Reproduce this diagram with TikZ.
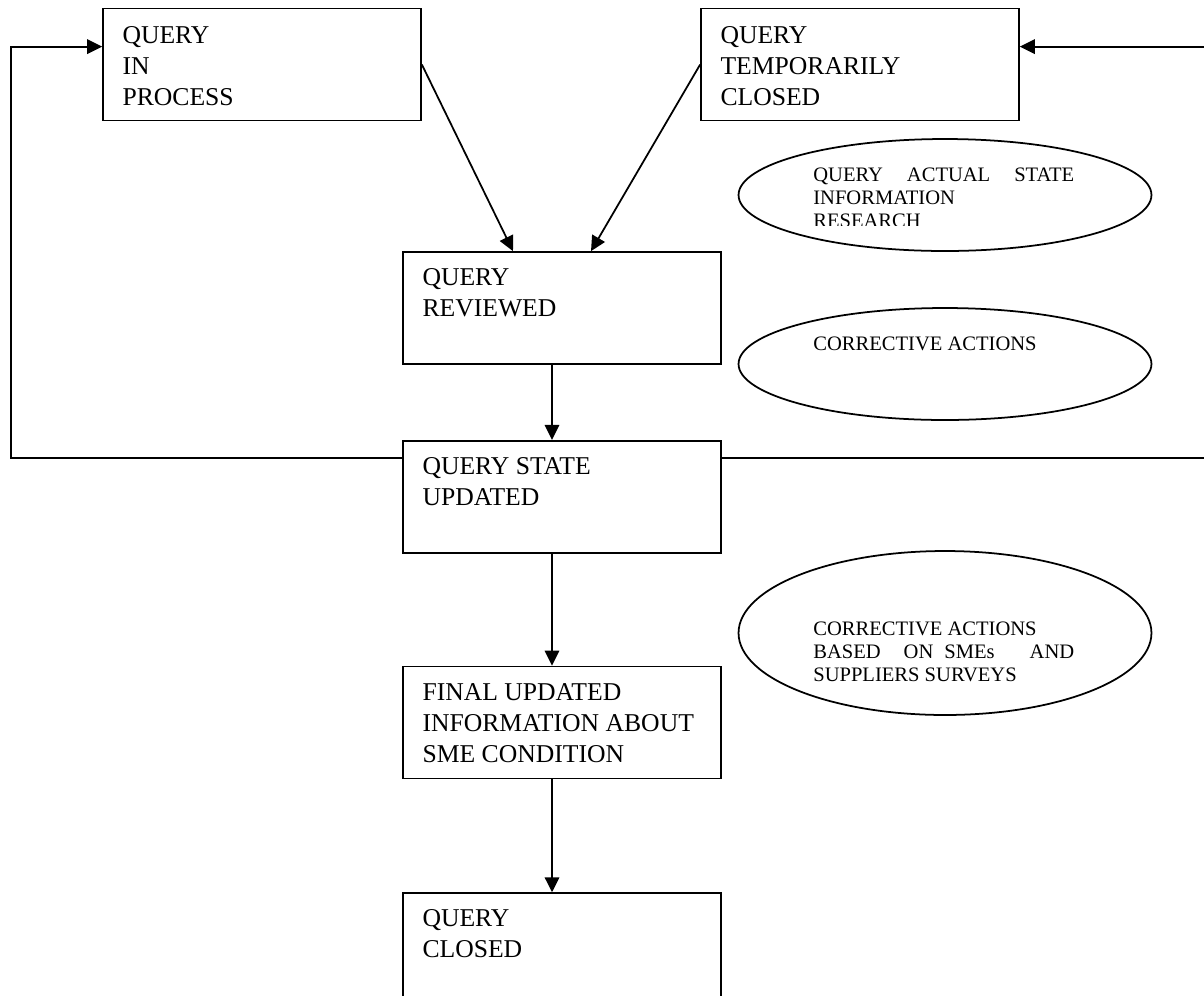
\documentclass[tikz,border=0pt]{standalone}
\usepackage{fontspec}
\setmainfont{Liberation Serif}
\usetikzlibrary{arrows.meta,shapes.geometric,positioning,calc}
\newcommand\bxfont{\fontsize{14.6pt}{17.6pt}\selectfont}
\newcommand\elfont{\fontsize{11.7pt}{13pt}\selectfont}

\begin{document}
\begin{tikzpicture}[
  x=0.02cm, y=-0.02cm,
  state/.style={rectangle, draw, line width=1pt, minimum width=6.36cm,
                minimum height=2.24cm, inner sep=0pt},
  stxt/.style={anchor=north west, inner sep=0pt, align=left, font=\bxfont},
  task/.style={ellipse, draw, line width=1pt, minimum width=8.26cm,
               minimum height=2.24cm, inner sep=0pt},
  ttxt/.style={anchor=north west, inner sep=0pt, align=left, font=\elfont},
  arr/.style={-{Triangle[length=0.3cm,width=0.29cm]}, line width=1pt},
  node distance=1.5cm,
]
\useasboundingbox (0,0) rectangle (1204,995);
\clip (0,0) rectangle (1204,995);

% Row 0 — in process / temporarily closed
\node[state] (inproc) at (262,64.5) {};
\node[state] (tmpcl)  at (860,64.5) {};

% Main column
\node[state] (review) at (562,308) {};
\node[state, below=1.5cm of review]  (upd)    {};
\node[state, below=2.24cm of upd]    (final)  {};
\node[state, below=2.26cm of final]  (closed) {};

% Box texts
\node[stxt] (inproc-t) at ($(inproc.north west)+(20,19)$) {QUERY\\IN\\PROCESS};
\node[stxt] (tmpcl-t)  at ($(tmpcl.north west)+(20,19)$)  {QUERY\\TEMPORARILY\\CLOSED};
\node[stxt] (review-t) at ($(review.north west)+(20,17)$) {QUERY\\REVIEWED};
\node[stxt] (upd-t)    at ($(upd.north west)+(20,17)$)    {QUERY STATE\\UPDATED};
\node[stxt] (final-t)  at ($(final.north west)+(20,18)$)  {FINAL UPDATED\\INFORMATION ABOUT\\SME CONDITION};
\node[stxt] (closed-t) at ($(closed.north west)+(20,17)$) {QUERY\\CLOSED};

% Ellipses on the right
\node[task] (actual) at (945,195) {};
\node[task] (corr)   at (945,364) {};
\node[task, minimum height=3.28cm] (survey) at (945,633) {};

\begin{scope}
  \clip (800,150) rectangle (1100,225);
  \node[ttxt] (actual-t) at (813,168)
    {\makebox[5.22cm][s]{QUERY ACTUAL STATE}\\INFORMATION\\RESEARCH};
\end{scope}
\node[ttxt] (corr-t)   at (813,337) {CORRECTIVE ACTIONS};
\node[ttxt] (survey-t) at (813,622)
  {CORRECTIVE ACTIONS\\\makebox[5.22cm][s]{BASED\hspace{0.46cm}ON\hspace{0.22cm}SMEs\hfill AND}\\SUPPLIERS SURVEYS};

% Arrows
\draw[arr] (inproc.east) -- ($(review.north)+(-49,0)$);
\draw[arr] (tmpcl.west)  -- ($(review.north)+(29,0)$);
\draw[arr] ($(review.south)+(-10,0)$) -- ($(upd.north)+(-10,0)$);
\draw[arr] ($(upd.south)+(-10,0)$)    -- ($(final.north)+(-10,0)$);
\draw[arr] ($(final.south)+(-10,0)$)  -- ($(closed.north)+(-10,0)$);

% Feedback loops
\coordinate (lft) at (11,0);
\coordinate (rgt) at (1215,0);
\coordinate (upd-l) at ($(upd.north west)+(0,18)$);
\coordinate (upd-r) at ($(upd.north east)+(0,18)$);
\coordinate (inproc-in) at ($(inproc.north west)+(0,39)$);
\coordinate (tmpcl-in)  at ($(tmpcl.north east)+(0,39)$);
\draw[arr] (upd-l) -- (upd-l -| lft) |- (inproc-in);
\draw[arr] (upd-r) -- (upd-r -| rgt) |- (tmpcl-in);
\end{tikzpicture}
\end{document}
